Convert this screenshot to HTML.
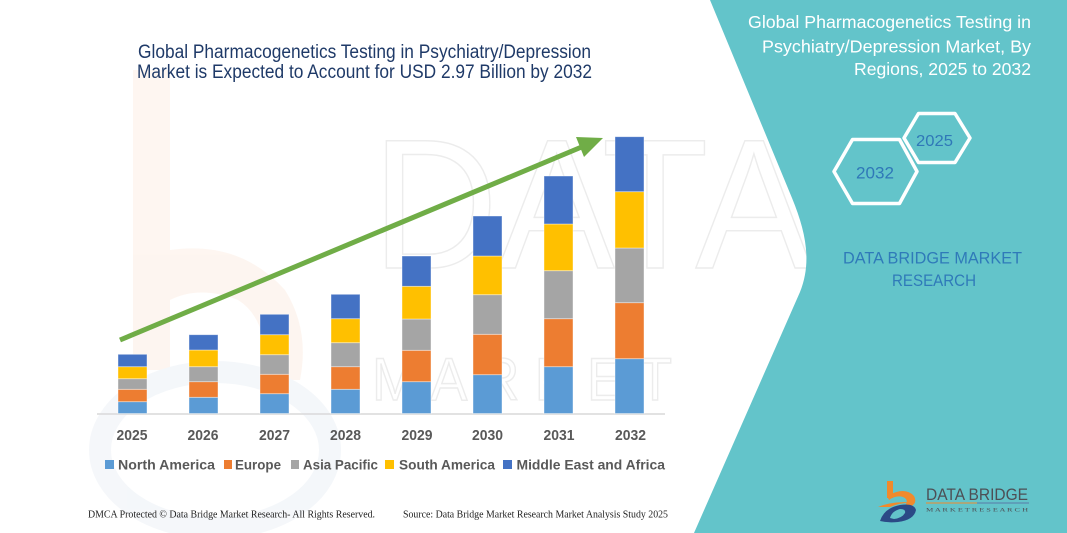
<!DOCTYPE html>
<html>
<head>
<meta charset="utf-8">
<style>
html,body{margin:0;padding:0;background:#fff;}
body{width:1067px;height:533px;overflow:hidden;}
svg{display:block;overflow:hidden;}
</style>
</head>
<body>
<svg width="1067" height="533" viewBox="0 0 1067 533" xmlns="http://www.w3.org/2000/svg">
  <defs>
    <clipPath id="frame"><rect x="0" y="0" width="1067" height="533"/></clipPath>
  </defs>
  <rect x="0" y="0" width="1067" height="533" fill="#ffffff"/>

  <g clip-path="url(#frame)">
  <!-- faint watermark logo -->
  <g opacity="0.6">
    <path d="M133,70 L170,70 L170,250 Q240,240 285,290 Q310,330 300,380 L265,380 Q270,320 238,300 Q200,285 170,300 L170,370 L133,370 Z" fill="#fdf0e7"/>
    <ellipse cx="215" cy="450" rx="115" ry="78" fill="none" stroke="#eef2f7" stroke-width="22"/>
  </g>
  <!-- faint watermark letters (thin) -->
  <g fill="none" stroke="#ececec" stroke-width="1.5" font-family="Liberation Sans, sans-serif">
    <text x="372" y="268" font-size="185" textLength="440" lengthAdjust="spacingAndGlyphs">DATA</text>
    <text x="372" y="400" font-size="60" textLength="300" lengthAdjust="spacingAndGlyphs">M A R K E T</text>
  </g>
  </g>

  <!-- right teal panel -->
  <path d="M710,0 L792,198 C806,232 812,262 800,292 L694,533 L1067,533 L1067,0 Z" fill="#63c4ca"/>

  <!-- main title -->
  <g font-family="Liberation Sans, sans-serif" fill="#1f3a68" font-size="19">
    <text x="138" y="58" textLength="453" lengthAdjust="spacingAndGlyphs">Global Pharmacogenetics Testing in Psychiatry/Depression</text>
    <text x="137" y="78" textLength="455" lengthAdjust="spacingAndGlyphs">Market is Expected to Account for USD 2.97 Billion by 2032</text>
  </g>

  <!-- axis line -->
  <line x1="97" y1="414" x2="665" y2="414" stroke="#d9d9d9" stroke-width="1.5"/>

  <!-- bars -->
  <g stroke="#ffffff" stroke-opacity="0.5" stroke-width="0.8">
    <rect x="118" y="401.7" width="29" height="11.8" fill="#5b9bd5"/>
    <rect x="118" y="389.3" width="29" height="12.4" fill="#ed7d31"/>
    <rect x="118" y="378.7" width="29" height="10.6" fill="#a5a5a5"/>
    <rect x="118" y="366.7" width="29" height="12" fill="#ffc000"/>
    <rect x="118" y="354.3" width="29" height="12.4" fill="#4472c4"/>
    <rect x="189" y="397.3" width="29" height="16.2" fill="#5b9bd5"/>
    <rect x="189" y="381.7" width="29" height="15.6" fill="#ed7d31"/>
    <rect x="189" y="366.7" width="29" height="15" fill="#a5a5a5"/>
    <rect x="189" y="350" width="29" height="16.7" fill="#ffc000"/>
    <rect x="189" y="334.7" width="29" height="15.3" fill="#4472c4"/>
    <rect x="260" y="393.7" width="29" height="19.8" fill="#5b9bd5"/>
    <rect x="260" y="374.3" width="29" height="19.4" fill="#ed7d31"/>
    <rect x="260" y="354.7" width="29" height="19.6" fill="#a5a5a5"/>
    <rect x="260" y="334.7" width="29" height="20" fill="#ffc000"/>
    <rect x="260" y="314.3" width="29" height="20.4" fill="#4472c4"/>
    <rect x="331" y="389.3" width="29" height="24.2" fill="#5b9bd5"/>
    <rect x="331" y="366.7" width="29" height="22.6" fill="#ed7d31"/>
    <rect x="331" y="342.7" width="29" height="24" fill="#a5a5a5"/>
    <rect x="331" y="318.7" width="29" height="24" fill="#ffc000"/>
    <rect x="331" y="294.3" width="29" height="24.4" fill="#4472c4"/>
    <rect x="402" y="381.7" width="29" height="31.8" fill="#5b9bd5"/>
    <rect x="402" y="350.3" width="29" height="31.4" fill="#ed7d31"/>
    <rect x="402" y="319" width="29" height="31.3" fill="#a5a5a5"/>
    <rect x="402" y="286.3" width="29" height="32.7" fill="#ffc000"/>
    <rect x="402" y="256" width="29" height="30.3" fill="#4472c4"/>
    <rect x="473" y="374.7" width="29" height="38.8" fill="#5b9bd5"/>
    <rect x="473" y="334.3" width="29" height="40.4" fill="#ed7d31"/>
    <rect x="473" y="294.7" width="29" height="39.6" fill="#a5a5a5"/>
    <rect x="473" y="256" width="29" height="38.7" fill="#ffc000"/>
    <rect x="473" y="216" width="29" height="40" fill="#4472c4"/>
    <rect x="544" y="366.7" width="29" height="46.8" fill="#5b9bd5"/>
    <rect x="544" y="318.7" width="29" height="48" fill="#ed7d31"/>
    <rect x="544" y="270.7" width="29" height="48" fill="#a5a5a5"/>
    <rect x="544" y="224" width="29" height="46.7" fill="#ffc000"/>
    <rect x="544" y="176" width="29" height="48" fill="#4472c4"/>
    <rect x="615" y="358.7" width="29" height="54.8" fill="#5b9bd5"/>
    <rect x="615" y="302.7" width="29" height="56" fill="#ed7d31"/>
    <rect x="615" y="248" width="29" height="54.7" fill="#a5a5a5"/>
    <rect x="615" y="191.7" width="29" height="56.3" fill="#ffc000"/>
    <rect x="615" y="136.7" width="29" height="55" fill="#4472c4"/>
  </g>

  <!-- arrow -->
  <line x1="120" y1="340" x2="584" y2="146" stroke="#70ad47" stroke-width="5"/>
  <polygon points="603,138 576,137 584,157" fill="#70ad47"/>

  <!-- year labels -->
  <g font-family="Liberation Sans, sans-serif" font-weight="bold" font-size="15" fill="#595959">
    <text x="116.5" y="440" textLength="31" lengthAdjust="spacingAndGlyphs">2025</text>
    <text x="187.5" y="440" textLength="31" lengthAdjust="spacingAndGlyphs">2026</text>
    <text x="259" y="440" textLength="31" lengthAdjust="spacingAndGlyphs">2027</text>
    <text x="330" y="440" textLength="31" lengthAdjust="spacingAndGlyphs">2028</text>
    <text x="401.5" y="440" textLength="31" lengthAdjust="spacingAndGlyphs">2029</text>
    <text x="472" y="440" textLength="31" lengthAdjust="spacingAndGlyphs">2030</text>
    <text x="543.5" y="440" textLength="31" lengthAdjust="spacingAndGlyphs">2031</text>
    <text x="615" y="440" textLength="31" lengthAdjust="spacingAndGlyphs">2032</text>
  </g>

  <!-- legend -->
  <g>
    <rect x="105" y="460" width="9" height="9" fill="#5b9bd5"/>
    <rect x="224" y="460" width="8" height="9" fill="#ed7d31"/>
    <rect x="291" y="460" width="8" height="9" fill="#a5a5a5"/>
    <rect x="385" y="460" width="9" height="9" fill="#ffc000"/>
    <rect x="503" y="460" width="9" height="9" fill="#4472c4"/>
  </g>
  <g font-family="Liberation Sans, sans-serif" font-weight="bold" font-size="14" fill="#595959">
    <text x="118" y="469.5" textLength="97" lengthAdjust="spacingAndGlyphs">North America</text>
    <text x="235" y="469.5" textLength="46" lengthAdjust="spacingAndGlyphs">Europe</text>
    <text x="303" y="469.5" textLength="75" lengthAdjust="spacingAndGlyphs">Asia Pacific</text>
    <text x="399" y="469.5" textLength="96" lengthAdjust="spacingAndGlyphs">South America</text>
    <text x="516.5" y="469.5" textLength="148.5" lengthAdjust="spacingAndGlyphs">Middle East and Africa</text>
  </g>

  <!-- footer -->
  <g font-family="Liberation Serif, serif" font-size="10.5" fill="#222">
    <text x="88" y="517.5" textLength="287" lengthAdjust="spacingAndGlyphs">DMCA Protected © Data Bridge Market Research-  All Rights Reserved.</text>
    <text x="403" y="517.5" textLength="265" lengthAdjust="spacingAndGlyphs">Source: Data Bridge Market Research  Market Analysis Study 2025</text>
  </g>

  <!-- right panel title -->
  <g font-family="Liberation Sans, sans-serif" font-size="17.5" fill="#ffffff" text-anchor="end">
    <text x="1031" y="28" textLength="283" lengthAdjust="spacingAndGlyphs">Global Pharmacogenetics Testing in</text>
    <text x="1031" y="52.5" textLength="269" lengthAdjust="spacingAndGlyphs">Psychiatry/Depression Market, By</text>
    <text x="1031" y="75" textLength="177" lengthAdjust="spacingAndGlyphs">Regions, 2025 to 2032</text>
  </g>

  <!-- hexagons -->
  <g fill="none" stroke="#ffffff" stroke-width="3.5" stroke-linejoin="round">
    <polygon points="834,171.5 852.5,139.5 899.5,139.5 917,171.5 899.5,203.5 852.5,203.5"/>
    <polygon points="904,138 918.5,113.5 955,113.5 970,138 955,162.5 918.5,162.5"/>
  </g>
  <g font-family="Liberation Sans, sans-serif" fill="#2f78b8">
    <text x="856" y="178.5" font-size="17" textLength="38" lengthAdjust="spacingAndGlyphs">2032</text>
    <text x="916" y="146" font-size="16" textLength="37" lengthAdjust="spacingAndGlyphs">2025</text>
  </g>

  <!-- DATA BRIDGE MARKET RESEARCH -->
  <g font-family="Liberation Sans, sans-serif" font-size="17" fill="#2f7ab9">
    <text x="843" y="263.5" textLength="179" lengthAdjust="spacingAndGlyphs">DATA BRIDGE MARKET</text>
    <text x="892" y="286" textLength="84" lengthAdjust="spacingAndGlyphs">RESEARCH</text>
  </g>

  <!-- bottom-right logo -->
  <g>
    <rect x="887" y="481" width="6" height="17" fill="#f08a2c"/>
    <path d="M887,496 Q905,486 914,496 Q918,503 910,507 L904,507 Q910,500 903,497 Q896,495 889,500 Z" fill="#f08a2c"/>
    <path d="M878,507 Q895,500 916,503 Q900,502 890,507 Z" fill="#f08a2c"/>
    <path d="M880,521 Q884,508 900,505 Q914,503 916,510 Q914,520 898,522 Q888,523 880,521 Z" fill="#2b4a86"/>
    <path d="M890,518 Q892,511 900,509 Q906,509 905,513 Q902,518 894,519 Z" fill="#63c4ca"/>
    <text x="926" y="500" font-family="Liberation Sans, sans-serif" font-size="16.5" fill="#4d4f55" textLength="102" lengthAdjust="spacingAndGlyphs">DATA BRIDGE</text>
    <line x1="926" y1="503" x2="977" y2="503" stroke="#f08a2c" stroke-width="1"/>
    <line x1="977" y1="503" x2="1029" y2="503" stroke="#5a7aa8" stroke-width="1"/>
    <text x="926" y="511.5" font-family="Liberation Serif, serif" font-size="5.5" fill="#4d4f55" textLength="102" lengthAdjust="spacingAndGlyphs">M A R K E T     R E S E A R C H</text>
  </g>
</svg>
</body>
</html>
